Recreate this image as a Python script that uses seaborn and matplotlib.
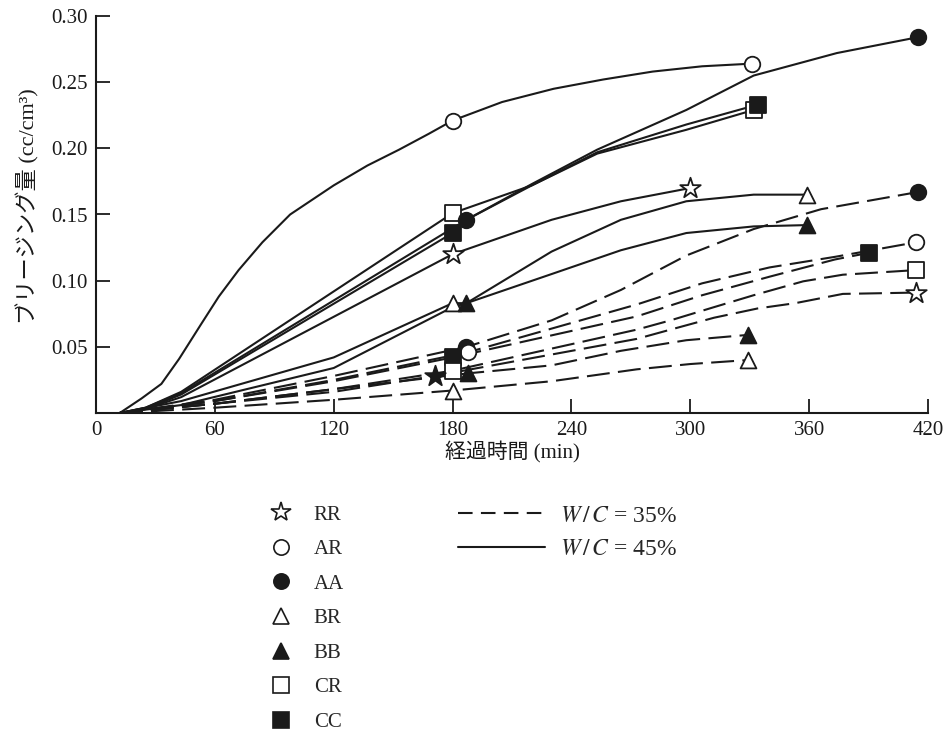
import numpy as np
import pandas as pd
import matplotlib.pyplot as plt
import seaborn as sns
from matplotlib.lines import Line2D

# elapsed time (min) / bleeding (cc/cm3), W/C=45% (solid lines)
ar45_t = [12, 23, 33, 42, 53, 62, 72, 84, 98, 120, 137, 153, 168, 180, 205, 231, 256, 281, 306, 331]
ar45_v = [0, 0.011, 0.022, 0.041, 0.067, 0.088, 0.108, 0.129, 0.150, 0.172, 0.187, 0.199, 0.211,
          0.221, 0.235, 0.245, 0.252, 0.258, 0.262, 0.264]
aa45_t = [12, 25, 43, 187, 220, 253, 298, 332, 374, 415]
aa45_v = [0, 0.004, 0.015, 0.146, 0.173, 0.199, 0.229, 0.255, 0.272, 0.284]
cr45_t = [12, 25, 43, 180, 220, 253, 298, 332]
cr45_v = [0, 0.004, 0.016, 0.151, 0.172, 0.196, 0.214, 0.229]
cc45_t = [12, 25, 43, 180, 187, 220, 253, 298, 334]
cc45_v = [0, 0.003, 0.014, 0.136, 0.146, 0.172, 0.197, 0.218, 0.233]
rr45_t = [12, 25, 43, 180, 230, 265, 300]
rr45_v = [0, 0.003, 0.012, 0.120, 0.146, 0.160, 0.170]
br45_t = [12, 43, 120, 180, 187, 230, 265, 298, 332, 359]
br45_v = [0, 0.009, 0.042, 0.083, 0.083, 0.122, 0.146, 0.160, 0.165, 0.165]
bb45_t = [12, 43, 120, 180, 187, 230, 265, 298, 332, 359]
bb45_v = [0, 0.006, 0.034, 0.080, 0.083, 0.105, 0.123, 0.136, 0.141, 0.142]

# W/C=35% (dashed lines)
aa35_t = [12, 60, 120, 187, 230, 265, 298, 332, 366, 415]
aa35_v = [0, 0.010, 0.028, 0.050, 0.070, 0.093, 0.119, 0.139, 0.154, 0.167]
ar35_t = [12, 60, 120, 188, 273, 306, 340, 373, 414]
ar35_v = [0, 0.009, 0.025, 0.046, 0.082, 0.098, 0.110, 0.118, 0.129]
cc35_t = [12, 60, 120, 180, 273, 306, 340, 373, 390]
cc35_v = [0, 0.009, 0.024, 0.042, 0.073, 0.089, 0.103, 0.116, 0.121]
cr35_t = [12, 60, 120, 180, 273, 290, 312, 332, 357, 377, 414]
cr35_v = [0, 0.007, 0.018, 0.032, 0.063, 0.070, 0.080, 0.089, 0.0995, 0.1045, 0.108]
rr35_t = [12, 60, 120, 171, 273, 290, 312, 334, 353, 377, 414]
rr35_v = [0, 0.007, 0.016, 0.028, 0.056, 0.063, 0.072, 0.079, 0.083, 0.090, 0.091]
bb35_t = [12, 60, 120, 188, 230, 265, 298, 329]
bb35_v = [0, 0.007, 0.018, 0.030, 0.036, 0.047, 0.055, 0.059]
br35_t = [12, 60, 120, 180, 230, 273, 300, 329]
br35_v = [0, 0.004, 0.010, 0.017, 0.024, 0.033, 0.037, 0.040]

# kind -> marker symbol / filled
kinds = ['RR', 'AR', 'AA', 'BR', 'BB', 'CR', 'CC']
kind_marker = {'RR': '*', 'AR': 'o', 'AA': 'o', 'BR': '^', 'BB': '^', 'CR': 's', 'CC': 's'}
kind_filled = {'RR': False, 'AR': False, 'AA': True, 'BR': False, 'BB': True, 'CR': False, 'CC': True}

xticks = [0, 60, 120, 180, 240, 300, 360, 420]
yticks = [0.05, 0.10, 0.15, 0.20, 0.25, 0.30]

# (kind, wc, times, values, times with a marker, filled override)
series = [
    ('AR', 45, ar45_t, ar45_v, [180, 331], None),
    ('CR', 45, cr45_t, cr45_v, [180, 332], None),
    ('CC', 45, cc45_t, cc45_v, [180, 334], None),
    ('AA', 45, aa45_t, aa45_v, [187, 415], None),
    ('RR', 45, rr45_t, rr45_v, [180, 300], None),
    ('BR', 45, br45_t, br45_v, [180, 359], None),
    ('BB', 45, bb45_t, bb45_v, [187, 359], None),
    ('AA', 35, aa35_t, aa35_v, [187, 415], None),
    ('AR', 35, ar35_t, ar35_v, [188, 414], None),
    ('CC', 35, cc35_t, cc35_v, [180, 390], None),
    ('CR', 35, cr35_t, cr35_v, [180, 414], None),
    ('RR', 35, rr35_t, rr35_v, [171, 414], [True, False]),
    ('BB', 35, bb35_t, bb35_v, [188, 329], None),
    ('BR', 35, br35_t, br35_v, [180, 329], None),
]

sns.set_style('ticks')
plt.rcParams['font.family'] = ['Liberation Serif', 'Noto Sans CJK JP']
plt.rcParams['mathtext.fontset'] = 'stix'

ink = '#1a1a1a'
dash = (0, (11, 4))
msize = {'*': 240, 'o': 125, '^': 130, 's': 125}

fig = plt.figure(figsize=(9.5, 7.31), dpi=100)
ax = fig.add_axes([96 / 950, 1 - 413 / 731, 832 / 950, 397 / 731])

for kind, wc, t, v, mk, fills in series:
    ls = '-' if wc == 45 else dash
    sns.lineplot(x=t, y=v, ax=ax, color=ink, linewidth=1.5, linestyle=ls,
                 estimator=None, sort=False, zorder=2)
    mv = [v[t.index(m)] for m in mk]
    if fills is None:
        fills = [kind_filled[kind]] * len(mk)
    for xm, ym, f in zip(mk, mv, fills):
        mkr = kind_marker[kind]
        sns.scatterplot(x=[xm], y=[ym], ax=ax, marker=mkr, s=msize[mkr],
                        facecolor=ink if f else 'white', edgecolor=ink,
                        linewidth=1.3, zorder=4, clip_on=False)

ax.set_xlim(0, 420)
ax.set_ylim(0, 0.30)
ax.set_xticks(xticks)
ax.set_xticklabels([str(x) for x in xticks])
ax.set_yticks(yticks)
ax.set_yticklabels([f'{y:.2f}' for y in yticks])
ax.tick_params(direction='in', length=10, width=1.3, labelsize=15, colors=ink, pad=6)
sns.despine(ax=ax)
for s in ['left', 'bottom']:
    ax.spines[s].set_linewidth(1.5)
    ax.spines[s].set_color(ink)

ax.set_xlabel('経過時間 (min)', fontsize=15, color=ink)
ax.xaxis.set_label_coords(0.5, -0.072)
ax.set_ylabel('ブリージング量 (cc/cm³)', fontsize=16, color=ink)
ax.yaxis.set_label_coords(-0.068, 0.52)

# legends below the plot
mk_handles = []
for k in kinds:
    mkr = kind_marker[k]
    mk_handles.append(Line2D([], [], ls='none', marker=mkr,
                             markersize=15 if mkr == '*' else 11,
                             markerfacecolor=ink if kind_filled[k] else 'white',
                             markeredgecolor=ink, markeredgewidth=1.2, label=k))
fig.legend(handles=mk_handles, loc='upper left', bbox_to_anchor=(267 / 950, 1 - 505 / 731),
           frameon=False, fontsize=15, labelspacing=0.72, handletextpad=0.95,
           handlelength=1.3, borderaxespad=0, borderpad=0)

ln_handles = [
    Line2D([], [], color=ink, lw=1.5, ls=(0, (7, 4)), label=r'$W\,/\,C$ = 35%'),
    Line2D([], [], color=ink, lw=1.5, ls='-', label=r'$W\,/\,C$ = 45%'),
]
fig.legend(handles=ln_handles, loc='upper left', bbox_to_anchor=(458 / 950, 1 - 505 / 731),
           frameon=False, fontsize=17, labelspacing=0.5, handletextpad=0.6,
           handlelength=3.7, borderaxespad=0, borderpad=0)

fig.savefig('out.png', dpi=100)
